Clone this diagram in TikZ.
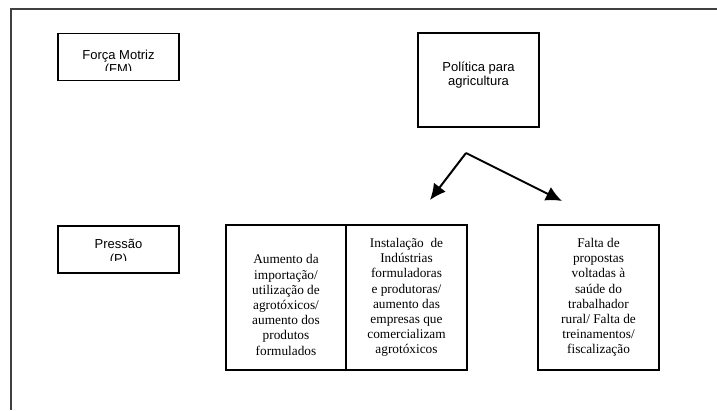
\documentclass[tikz,border=0pt]{standalone}
\usepackage{fontspec}
\setmainfont{Liberation Serif}
\setsansfont{Liberation Sans}
\usetikzlibrary{arrows.meta}

\begin{document}
\begin{tikzpicture}[x=1pt, y=-1pt, every text node part/.style={align=center}]

\tikzstyle{frame}=[draw=black!75, line width=1.5pt]
\tikzstyle{box}=[draw, line width=1.6pt, inner sep=0pt, minimum width=121pt]
\tikzstyle{sanstext}=[inner sep=0pt, font=\sffamily\fontsize{13}{13.5}\selectfont]
\tikzstyle{sertext}=[font=\rmfamily\fontsize{13.3}{15.2}\selectfont]
\tikzstyle{flow}=[draw, line width=2pt, -{Latex[length=16pt, width=15pt]}]

\useasboundingbox (0,0) rectangle (717,410);
\path [frame] (717,9) -- (11,9) -- (11,410);

\node [box, minimum height=47pt] (fm) at (118.5, 57) {};
\node [box, minimum height=94pt] (politica) at (478.5, 80) {};
\node [box, minimum height=47pt] (pressao) at (118.5, 249.5) {};

\begin{scope}
\clip (fm.north west) rectangle ([yshift=11pt]fm.south east);
\node [sanstext, anchor=north] (fmtext) at (118.5, 50) {Força Motriz\\(FM)};
\end{scope}
\begin{scope}
\clip (pressao.north west) rectangle ([yshift=13pt]pressao.south east);
\node [sanstext, anchor=north, font=\sffamily\fontsize{13}{15}\selectfont] (ptext) at (118.5, 239) {Pressão\\(P)};
\end{scope}
\node [sanstext, anchor=north] (poltext) at (478.5, 62) {Política para\\agricultura};

\node [box, sertext, minimum height=145pt, minimum width=120pt] (aumento) at (286, 297.5)
  {\vphantom{A}\\Aumento da\\importação/\\utilização de\\agrotóxicos/\\aumento dos\\produtos\\formulados};
\node [box, sertext, minimum height=145pt] (instalacao) at (406.5, 297.5)
  {Instalação~ de\\Indústrias\\formuladoras\\e produtoras/\\aumento das\\empresas que\\comercializam\\agrotóxicos};
\node [box, sertext, minimum height=145pt] (falta) at (598.5, 297.5)
  {Falta de\\propostas\\voltadas à\\saúde do\\trabalhador\\rural/ Falta de\\treinamentos/\\fiscalização};

\coordinate (split) at (466, 153);
\coordinate (lefttip) at (430, 200);
\coordinate (righttip) at (562, 201);

\path [flow] (split) -- (lefttip);
\path [flow] (split) -- (righttip);

\end{tikzpicture}
\end{document}
